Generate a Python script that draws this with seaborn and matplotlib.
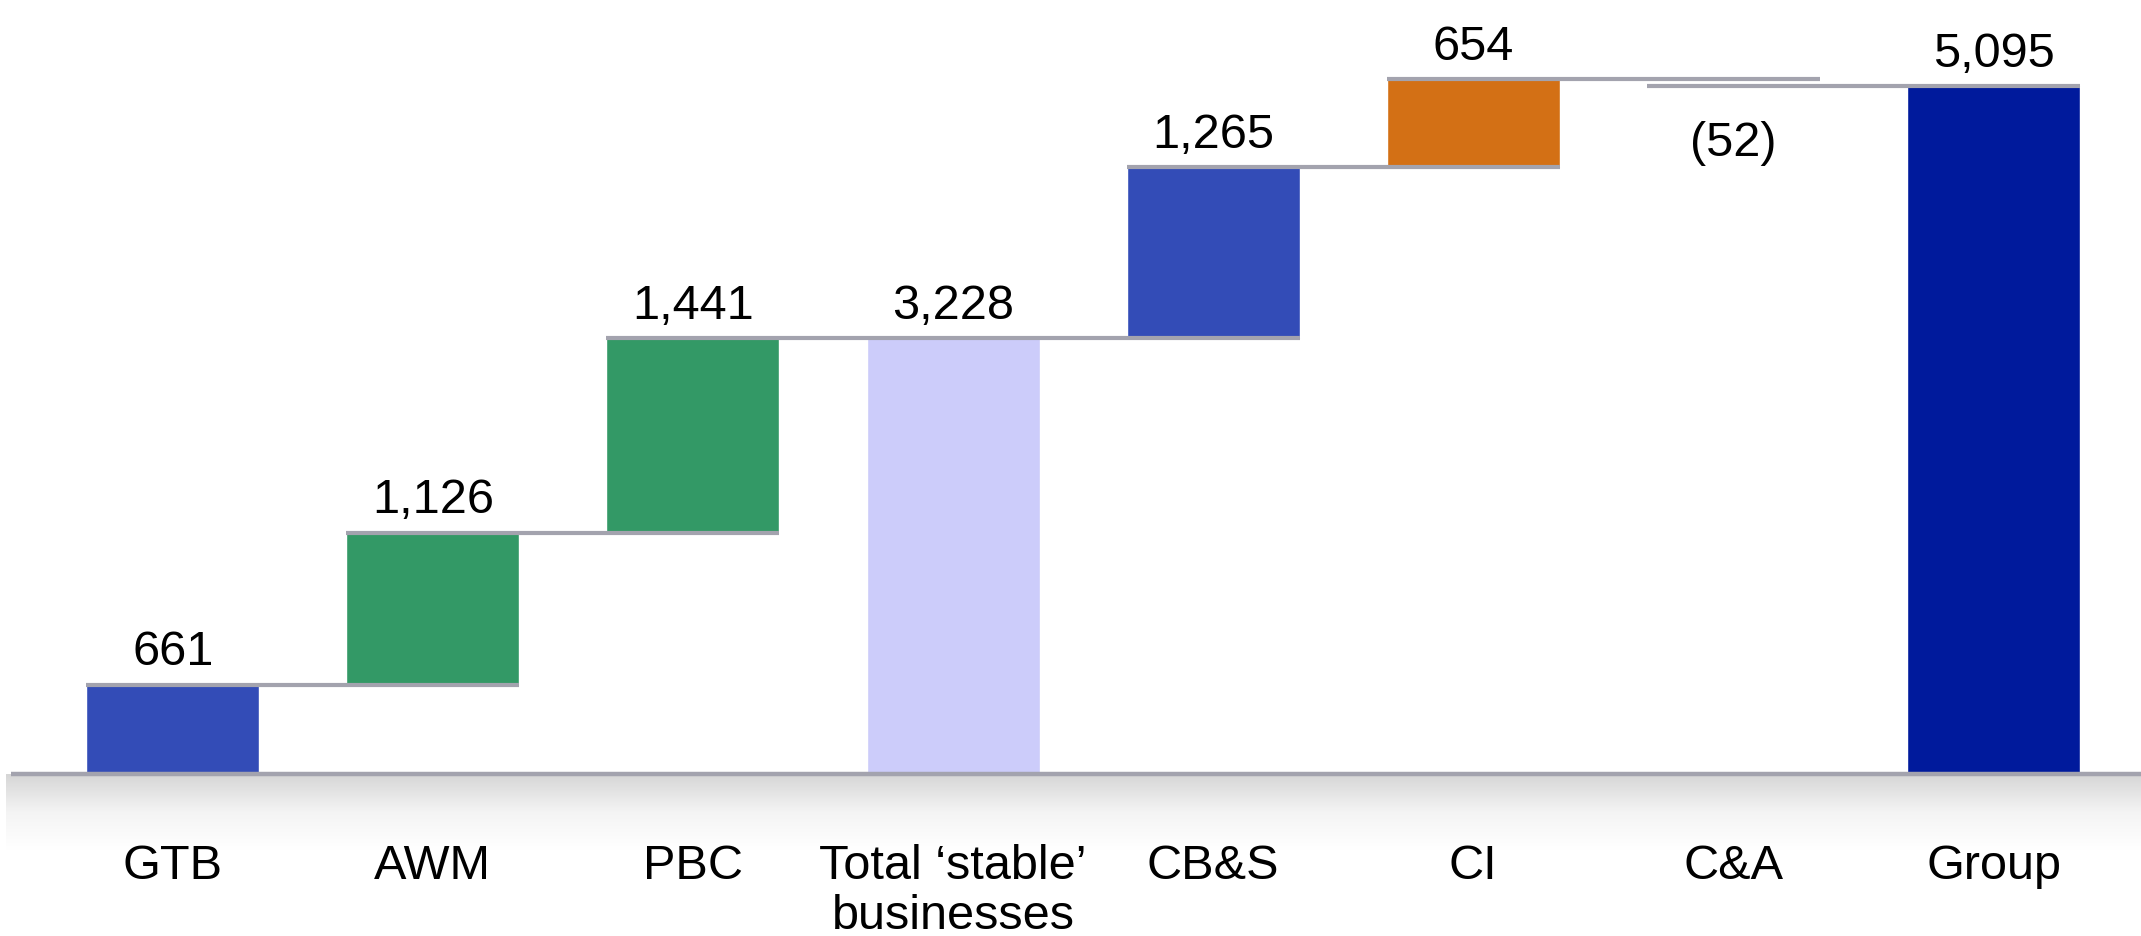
import matplotlib.pyplot as plt
import numpy as np
import pandas as pd
import seaborn as sns
from matplotlib.colors import LinearSegmentedColormap

# data
categories = ['GTB', 'AWM', 'PBC', 'Total \u2018stable\u2019\nbusinesses', 'CB&S', 'CI', 'C&A', 'Group']
changes = [661, 1126, 1441, None, 1265, 654, -52, None]   # None = total bar
value_labels = ['661', '1,126', '1,441', '3,228', '1,265', '654', '(52)', '5,095']
bar_colors = ['#334cb7', '#339966', '#339966', '#ccccfa', '#334cb7', '#d37015', '#ffffff', '#001a9c']

line_color = '#a3a3ae'

# build waterfall tops / bottoms
bottoms, tops = [], []
running = 0
for c in changes:
    if c is None:
        bottoms.append(0)
        tops.append(running)
    else:
        new = running + c
        bottoms.append(min(running, new))
        tops.append(max(running, new))
        running = new
levels = []
running = 0
for c in changes:
    running = running if c is None else running + c
    levels.append(running)

df = pd.DataFrame({'cat': categories,
                   'height': np.array(tops) - np.array(bottoms),
                   'bottom': bottoms})

sns.set_style('white')
plt.rcParams['font.family'] = ['Liberation Sans', 'DejaVu Sans']

fig = plt.figure(figsize=(21.41, 9.36), dpi=100)
ax = fig.add_axes([0, 0, 1, 1])

w = 0.665
sns.barplot(data=df, x='cat', y='height', hue='cat', order=categories, hue_order=categories,
            palette=bar_colors, width=w, legend=False, saturation=1, ax=ax, zorder=2)
for patch, b in zip(ax.patches, df['bottom']):
    patch.set_y(b)

# connector lines: from left edge of a bar to right edge of the next bar
for i in range(len(categories) - 1):
    if changes[i] is None:
        continue
    j = i + 1
    while j < len(categories) - 1 and changes[j] is None and levels[j] == levels[i]:
        j += 1
    ax.hlines(levels[i], i - w / 2, j + w / 2, color=line_color, lw=3, zorder=3)

# baseline and shadow
ax.hlines(0, -0.62, 7.6, color=line_color, lw=3.2, zorder=4)
grad = np.linspace(0, 1, 100).reshape(-1, 1)
cmap = LinearSegmentedColormap.from_list('shade', ['#d6d6d6', '#f4f4f4', '#ffffff'])
ax.imshow(grad, cmap=cmap, aspect='auto', extent=[-0.64, 7.6, -560, 0], zorder=1)

# value labels
for k, txt in enumerate(value_labels):
    if changes[k] is not None and changes[k] < 0:
        ax.annotate(txt, (k, bottoms[k]), xytext=(0, -41), textcoords='offset points',
                    ha='center', va='center', fontsize=35, color='black')
    else:
        ax.annotate(txt, (k, tops[k]), xytext=(0, 14), textcoords='offset points',
                    ha='center', va='baseline', fontsize=35, color='black')

# category labels
for k, name in enumerate(categories):
    ax.text(k, -520, name, ha='center', va='top', fontsize=35, linespacing=1.15,
            color='black')

ax.set_xlim(-0.664, 7.567)
ax.set_ylim(-1200, 5733)
ax.set_axis_off()

fig.savefig('out.png', dpi=100)
